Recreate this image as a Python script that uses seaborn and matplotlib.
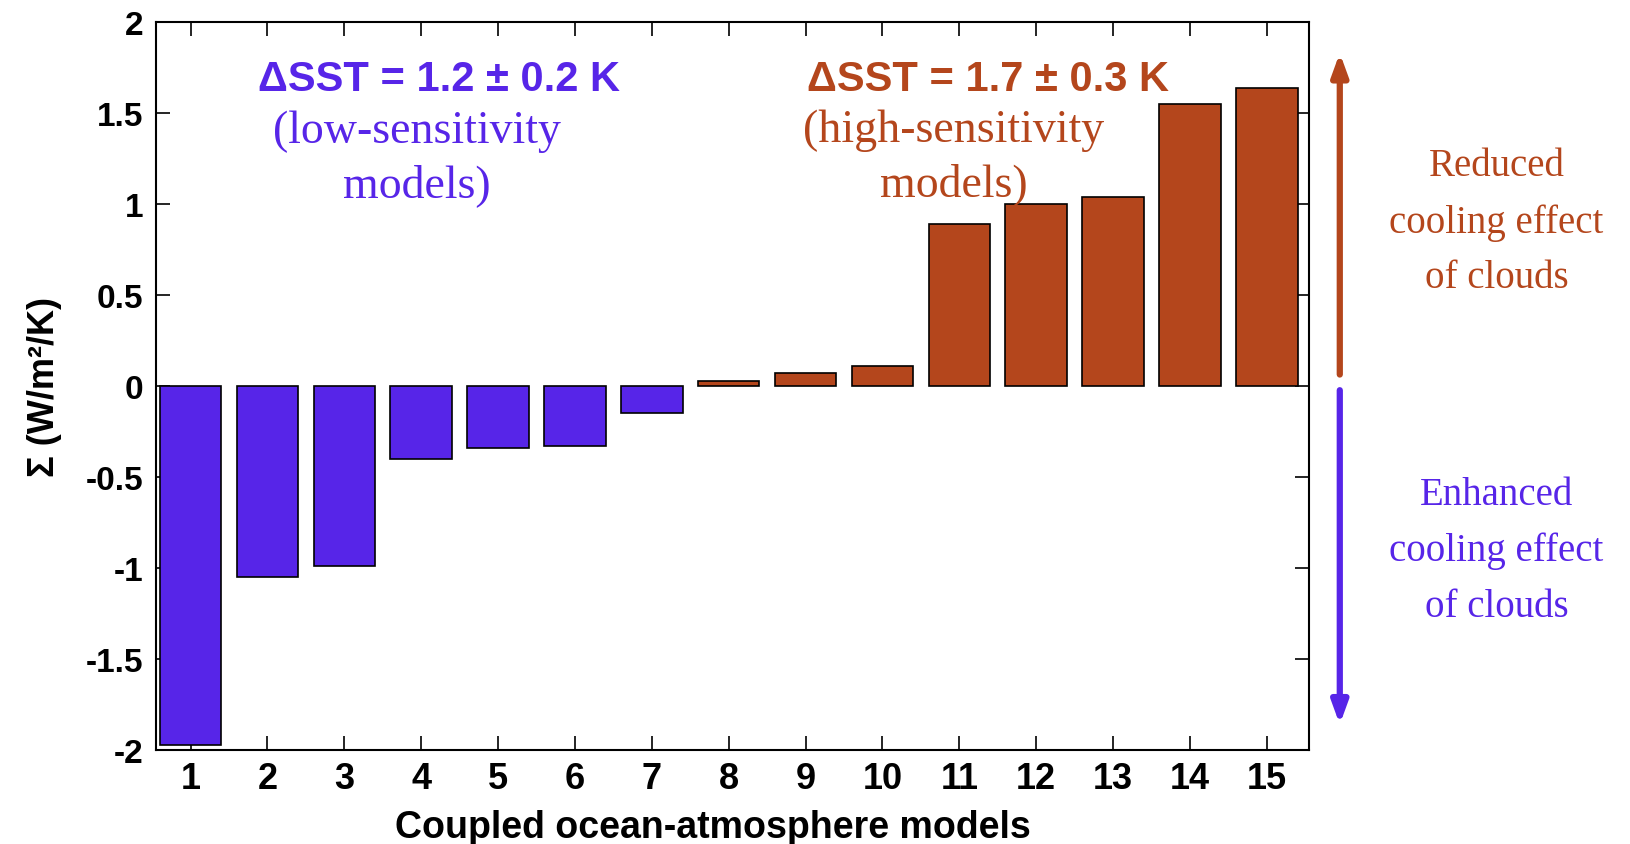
import matplotlib
matplotlib.use("Agg")
import matplotlib.pyplot as plt
import seaborn as sns
import pandas as pd

# Cloud feedback parameter for each coupled model
models = list(range(1, 16))
sigma = [-1.97, -1.05, -0.99, -0.40, -0.34, -0.33, -0.15,
         0.03, 0.07, 0.11, 0.89, 1.00, 1.04, 1.55, 1.64]
group = ["low"] * 7 + ["high"] * 8

y_ticks = [-2, -1.5, -1, -0.5, 0, 0.5, 1, 1.5, 2]
y_tick_labels = ["-2", "-1.5", "-1", "-0.5", "0", "0.5", "1", "1.5", "2"]

BLUE = "#5725E8"
BROWN = "#B4461C"

sns.set_theme(style="white")
plt.rcParams["font.family"] = ["Liberation Sans", "DejaVu Sans"]

df = pd.DataFrame({"model": models, "sigma": sigma, "group": group})

fig = plt.figure(figsize=(16.31, 8.45), dpi=100)
ax = fig.add_axes([0.0956, 0.1112, 0.707, 0.8616])

sns.barplot(data=df, x="model", y="sigma", hue="group",
            palette={"low": BLUE, "high": BROWN}, native_scale=True,
            width=0.8, dodge=False, saturation=1, edgecolor="black",
            linewidth=1.2, legend=False, ax=ax)

ax.set_xlim(0.55, 15.55)
ax.set_ylim(-2, 2)
ax.set_xticks(models)
ax.set_xticklabels([str(m) for m in models])
ax.set_yticks(y_ticks)
ax.set_yticklabels(y_tick_labels)

for s in ax.spines.values():
    s.set_visible(True)
    s.set_color("black")
    s.set_linewidth(1.5)

ax.tick_params(axis="both", which="both", direction="in", length=10, width=1.2,
               top=True, right=True, bottom=True, left=True, colors="black",
               labelcolor="black")
ax.tick_params(axis="x", pad=8, labelsize=26)
ax.tick_params(axis="y", pad=9, labelsize=24)
for lbl in ax.get_xticklabels() + ax.get_yticklabels():
    lbl.set_fontweight("bold")

ax.set_xlabel("Coupled ocean-atmosphere models", fontsize=27,
              fontweight="bold", color="black")
ax.xaxis.label.set_verticalalignment("center")
ax.xaxis.set_label_coords(0.483, -0.106)
ax.set_ylabel("Σ (W/m²/K)", fontsize=26, fontweight="bold", color="black")
ax.yaxis.label.set_verticalalignment("center")
ax.yaxis.set_label_coords(-0.097, 0.50)

# group annotations
ax.text(4.23, 1.686, "ΔSST = 1.2 ± 0.2 K", color=BLUE, fontsize=30,
        fontweight="bold", ha="center", va="center")
ax.text(3.94, 1.255, "(low-sensitivity\nmodels)", color=BLUE, fontsize=33,
        family="Liberation Serif", ha="center", va="center", linespacing=1.35)
ax.text(11.38, 1.686, "ΔSST = 1.7 ± 0.3 K", color=BROWN, fontsize=30,
        fontweight="bold", ha="center", va="center")
ax.text(10.93, 1.26, "(high-sensitivity\nmodels)", color=BROWN, fontsize=33,
        family="Liberation Serif", ha="center", va="center", linespacing=1.35)

# direction arrows and explanations beside the axes
arrow_kw = dict(arrowstyle="-|>,head_length=1.1,head_width=0.4", lw=4.5,
                shrinkA=0, shrinkB=0)
ax.annotate("", xy=(15.95, 1.83), xytext=(15.95, 0.063), annotation_clip=False,
            arrowprops=dict(color=BROWN, **arrow_kw))
ax.annotate("", xy=(15.95, -1.86), xytext=(15.95, -0.023), annotation_clip=False,
            arrowprops=dict(color=BLUE, **arrow_kw))
ax.text(17.99, 0.903, "Reduced\ncooling effect\nof clouds", color=BROWN,
        fontsize=28, family="Liberation Serif", ha="center", va="center",
        linespacing=1.65, clip_on=False)
ax.text(17.99, -0.903, "Enhanced\ncooling effect\nof clouds", color=BLUE,
        fontsize=28, family="Liberation Serif", ha="center", va="center",
        linespacing=1.65, clip_on=False)

fig.savefig("out.png", dpi=100)
